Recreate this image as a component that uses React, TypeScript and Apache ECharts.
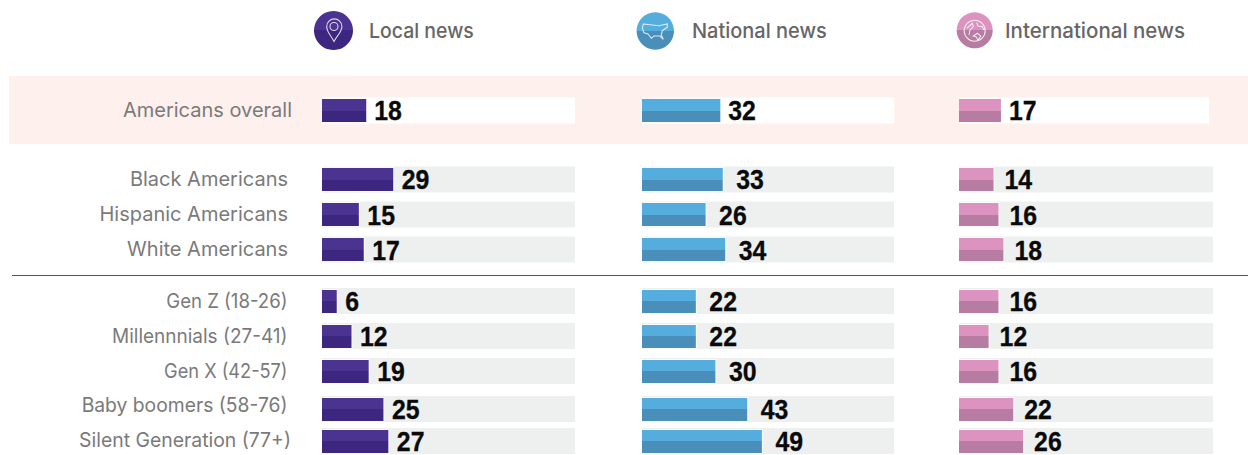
import React, { useEffect, useRef } from "react";
import * as echarts from "echarts";

const rowLabels = [
  "Americans overall",
  "Black Americans",
  "Hispanic Americans",
  "White Americans",
  "Gen Z (18-26)",
  "Millennnials (27-41)",
  "Gen X (42-57)",
  "Baby boomers (58-76)",
  "Silent Generation (77+)",
];
const localNews = [18, 29, 15, 17, 6, 12, 19, 25, 27];
const nationalNews = [32, 33, 26, 34, 22, 22, 30, 43, 49];
const internationalNews = [17, 14, 16, 18, 16, 12, 16, 22, 26];
const columnTitles = ["Local news", "National news", "International news"];

const trackMax = 103;
const rowTops = [97.5, 166.5, 201.5, 236.5, 288, 323, 358, 396, 428];
const rowHeight = 26;
const labelRight = [292, 288, 288, 288, 287.5, 287.5, 287.5, 287.5, 291];
const labelCenter = [110, 179, 214, 249, 301, 336, 371, 405, 440];
const labelScale = [1, 1, 1, 1, 0.93, 0.95, 0.91, 0.965, 0.97];
const valueCenter = [111, 180, 216, 251, 302, 337, 372, 410, 441.5];

const columns = [
  { values: localNews, left: 322, width: 253, overallEnd: 103, upper: "#4b3392", lower: "#3c2680", gap: 8.5 },
  { values: nationalNews, left: 642, width: 252, overallEnd: 103, upper: "#55addd", lower: "#4a8fb9", gap: 13.5 },
  { values: internationalNews, left: 959, width: 254, overallEnd: 101.4, upper: "#dc93c0", lower: "#b67ca1", gap: 11 },
];

const pinPath =
  "M334 41.5 C331 35.5 326.7 32 326.7 26.5 A7.6 7.6 0 1 1 341.9 26.5 C341.9 32 337 35.5 334 41.5 Z M334 22.5 A4 4 0 1 0 334 30.5 A4 4 0 1 0 334 22.5 Z";
const usaPath =
  "M643.3 24 L659 25.7 L662.3 25 L667.3 24 L667.3 27.3 L662.3 30.7 L661.3 35 L663.3 39.3 L660 36 L654 36 L651.3 38.3 L648 34 L644 32.7 L642.3 28.3 Z";
const globePath =
  "M974.7 20.2 A10.5 10.5 0 1 0 974.7 41.2 A10.5 10.5 0 1 0 974.7 20.2 Z M966.7 28.3 L972.3 23.3 L973.3 26.7 L970 30 L969 35 M976.7 22.7 L978 26 L982.3 26.7 L984 30 M973.3 36 L977.3 33.3 L980.7 36 L978 40 L976 36.7 Z";

echarts.graphic.registerShape("pinIcon", echarts.graphic.extendPath(pinPath, {}));
echarts.graphic.registerShape("usaIcon", echarts.graphic.extendPath(usaPath, {}));
echarts.graphic.registerShape("globeIcon", echarts.graphic.extendPath(globePath, {}));

const twoTone = (upper: string, lower: string) =>
  new echarts.graphic.LinearGradient(0, 0, 0, 1, [
    { offset: 0, color: upper },
    { offset: 0.5, color: upper },
    { offset: 0.5, color: lower },
    { offset: 1, color: lower },
  ]);

const labelFont = "Inter, 'Noto Sans', sans-serif";
const valueFont = "'Liberation Sans', sans-serif";

function headerGraphics() {
  const icon = (cx: number, cy: number, r: number, up: string, low: string, type: string) => [
    { type: "circle", shape: { cx, cy, r }, style: { fill: twoTone(up, low) } },
    { type, x: 0, y: 0, style: { fill: "none", stroke: "rgba(255,255,255,0.8)", lineWidth: 1.1 } },
  ];
  const title = (text: string, x: number, scaleX: number) => ({
    type: "text",
    x,
    y: 30.5,
    scaleX,
    style: { text, fill: "#666666", font: `500 20.5px ${labelFont}`, textVerticalAlign: "middle", textBaseline: "middle" },
  });
  return [
    { type: "rect", silent: true, shape: { x: 9, y: 76, width: 1239, height: 68 }, style: { fill: "#fdf0ed" }, z: -1 },
    { type: "line", silent: true, shape: { x1: 12, y1: 275.5, x2: 1248, y2: 275.5 }, style: { stroke: "#555555", lineWidth: 1 } },
    ...icon(333.5, 30.5, 19.5, "#4b3392", "#3c2680", "pinIcon"),
    ...icon(655.3, 31, 18.7, "#55addd", "#4a8fb9", "usaIcon"),
    ...icon(974.7, 30.3, 18, "#dc93c0", "#b67ca1", "globeIcon"),
    title(columnTitles[0], 369, 0.95),
    title(columnTitles[1], 692, 0.975),
    title(columnTitles[2], 1005, 1),
  ];
}

function makeRenderItem(col: (typeof columns)[number]) {
  return (_params: any, api: any) => {
    const value = api.value(0) as number;
    const row = api.value(1) as number;
    const top = rowTops[row];
    const [x0, y0] = api.coord([0, top]);
    const [xEnd] = api.coord([value, top]);
    const [xTrack] = api.coord([row === 0 ? col.overallEnd : trackMax, top]);
    const [, y1] = api.coord([0, top + rowHeight]);
    const mid = Math.round((y0 + y1) / 2);
    const barTop = Math.round(y0 + 1.5);
    const barBottom = Math.round(y1 - 1.5);
    return {
      type: "group",
      children: [
        {
          type: "rect",
          shape: { x: x0, y: y0, width: xTrack - x0, height: y1 - y0 },
          style: { fill: row === 0 ? "#ffffff" : "#edf0ef" },
        },
        {
          type: "rect",
          shape: { x: x0, y: barTop - 1, width: xEnd - x0 + 1, height: barBottom - barTop + 2 },
          style: { fill: "#fafafa" },
        },
        {
          type: "rect",
          shape: { x: x0, y: barTop, width: xEnd - x0, height: mid - barTop },
          style: { fill: col.upper },
        },
        {
          type: "rect",
          shape: { x: x0, y: mid, width: xEnd - x0, height: barBottom - mid },
          style: { fill: col.lower },
        },
        {
          type: "text",
          x: xEnd + (row === 0 ? 8 : col.gap),
          y: valueCenter[row],
          scaleX: 0.92,
          style: {
            text: String(value),
            fill: "#0a0a0a",
            stroke: "#0a0a0a",
            lineWidth: 0.3,
            font: `700 27px ${valueFont}`,
            textBaseline: "middle",
            textVerticalAlign: "middle",
          },
        },
      ],
    };
  };
}

function labelRenderItem(_params: any, api: any) {
  const row = api.value(0) as number;
  return {
    type: "text",
    x: labelRight[row],
    y: labelCenter[row],
    scaleX: labelScale[row],
    style: {
      text: rowLabels[row],
      fill: "#7a7a7a",
      font: `400 20px ${labelFont}`,
      textAlign: "right",
      textBaseline: "middle",
      textVerticalAlign: "middle",
    },
  };
}

export default function App() {
  const ref = useRef<HTMLDivElement>(null);
  useEffect(() => {
    const chart = echarts.init(ref.current!, undefined, { renderer: "svg" });
    chart.setOption({
      animation: false,
      backgroundColor: "#ffffff",
      graphic: { elements: headerGraphics() },
      grid: columns.map((c) => ({ left: c.left, width: c.width, top: 0, height: 455 })),
      xAxis: columns.map((_, i) => ({ type: "value", gridIndex: i, min: 0, max: trackMax, show: false })),
      yAxis: columns.map((_, i) => ({ type: "value", gridIndex: i, min: 0, max: 455, inverse: true, show: false })),
      series: [
        ...columns.map((c, i) => ({
          type: "custom",
          xAxisIndex: i,
          yAxisIndex: i,
          clip: false,
          renderItem: makeRenderItem(c),
          encode: { x: 0 },
          data: c.values.map((v, row) => [v, row]),
        })),
        {
          type: "custom",
          coordinateSystem: "none",
          renderItem: labelRenderItem,
          data: rowLabels.map((_, row) => [row]),
        },
      ],
    });
    return () => chart.dispose();
  }, []);
  return (
    <div
      ref={ref}
      style={{ position: "fixed", left: 0, top: 0, width: 1248, height: 455 }}
    />
  );
}
